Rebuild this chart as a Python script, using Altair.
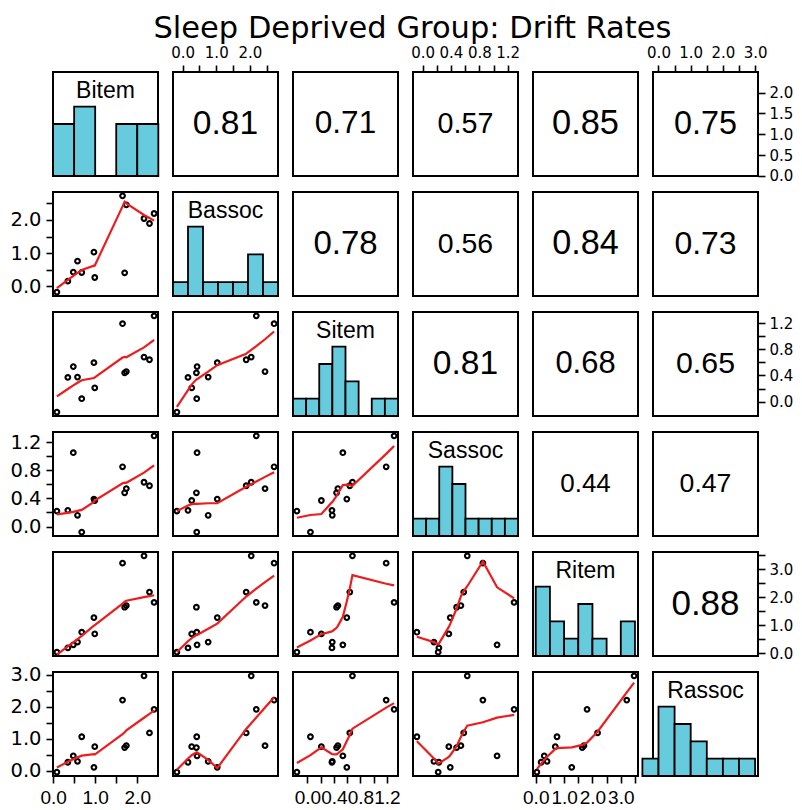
import altair as alt
import pandas as pd

FONT = "Liberation Sans"
AXFONT = "DejaVu Sans"
RED = "#EE1C1C"
CYAN = "#66CCDD"

names = ["Bitem", "Bassoc", "Sitem", "Sassoc", "Ritem", "Rassoc"]

bitem  = [0.09, 0.35, 0.48, 0.58, 0.68, 0.97, 0.99, 1.65, 1.70, 1.74, 2.16, 2.29, 2.40]
bassoc = [-0.17, 0.16, 0.43, 0.76, 0.42, 1.03, 0.27, 2.72, 0.41, 2.45, 2.04, 1.89, 2.19]
sitem  = [-0.16, 0.37, 0.535, 0.375, 0.045, 0.595, 0.21, 1.19, 0.44, 0.46, 0.68, 0.64, 1.31]
sassoc = [0.22, 0.23, 1.05, 0.16, -0.08, 0.39, 0.37, 0.85, 0.48, 0.54, 0.63, 0.58, 1.29]
ritem  = [0.04, 0.19, 0.30, 0.40, 0.75, 1.27, 0.69, 3.21, 1.64, 1.70, 3.47, 2.18, 1.81]
rassoc = [-0.05, 0.26, 0.46, 0.29, 1.06, 0.10, 0.75, 2.21, 0.72, 0.78, 2.97, 1.18, 1.92]

variables = [bitem, bassoc, sitem, sassoc, ritem, rassoc]

# correlations printed in the upper panels, row by row
cor_row1 = [0.81, 0.71, 0.57, 0.85, 0.75]
cor_row2 = [0.78, 0.56, 0.84, 0.73]
cor_row3 = [0.81, 0.68, 0.65]
cor_row4 = [0.44, 0.47]
cor_row5 = [0.88]
cor_rows = [cor_row1, cor_row2, cor_row3, cor_row4, cor_row5]

# histogram breaks per variable
bin_start = [0.0, -0.5, -0.2, -0.2, 0.0, -0.5]
bin_step = [0.5, 0.5, 0.2, 0.2, 0.5, 0.5]
bin_count = [5, 7, 8, 8, 7, 7]
hist_fill = [False, True, True, True, False, False]

# axis ticks per variable
tick_step = [0.5, 0.5, 0.2, 0.2, 0.5, 0.5]
tick_last = [2.0, 2.5, 1.2, 1.2, 3.5, 3.0]
label_step = [1.0, 1.0, 0.4, 0.4, 1.0, 1.0]
right_label_step = [0.5, 1.0, 0.4, 0.4, 1.0, 1.0]

W, H = 105, 104
N = len(names)


def padded(v):
    lo, hi = min(v), max(v)
    r = hi - lo
    return [lo - 0.04 * r, hi + 0.04 * r]


doms = [padded(v) for v in variables]


def ticks(k):
    n = int(round(tick_last[k] / tick_step[k]))
    return [round(t * tick_step[k], 4) for t in range(n + 1)]


def make_axis(orient, k, step, fs, pad, font):
    expr = ("(abs(datum.value / %g - round(datum.value / %g)) < 0.001) ? "
            "format(datum.value, '.1f') : ''" % (step, step))
    return alt.Axis(orient=orient, values=ticks(k), labelExpr=expr, title=None,
                    grid=False, domain=False, ticks=True, tickSize=7,
                    tickWidth=1.6, tickColor="black", labelColor="black",
                    labelFont=font, labelFontSize=fs, labelPadding=pad,
                    labelOverlap=False, labelFlush=False, labelBound=False)


def x_axis(i, j):
    if i == 0 and j % 2 == 1:
        return make_axis("top", j, label_step[j], 15, 5, AXFONT)
    if i == N - 1 and j % 2 == 0:
        return make_axis("bottom", j, label_step[j], 19, 5, FONT)
    return None


def y_axis(i, j):
    if j == 0 and i % 2 == 1:
        return make_axis("left", i, label_step[i], 19.5, 5, AXFONT)
    if j == N - 1 and i % 2 == 0:
        return make_axis("right", i, right_label_step[i], 15, 4, AXFONT)
    return None


def enc_x(field, j, axis):
    sc = alt.Scale(domain=doms[j], zero=False, nice=False)
    if axis is None:
        return alt.X(field, type="quantitative", scale=sc, axis=None)
    return alt.X(field, type="quantitative", scale=sc, axis=axis)


def enc_y(field, i, axis):
    sc = alt.Scale(domain=doms[i], zero=False, nice=False)
    if axis is None:
        return alt.Y(field, type="quantitative", scale=sc, axis=None)
    return alt.Y(field, type="quantitative", scale=sc, axis=axis)


def hist_panel(k):
    v = variables[k]
    edges = [round(bin_start[k] + b * bin_step[k], 4) for b in range(bin_count[k] + 1)]
    counts = [0] * bin_count[k]
    for val in v:
        for b in range(bin_count[k]):
            lo, hi = edges[b], edges[b + 1]
            if (lo < val <= hi) or (b == 0 and val == lo):
                counts[b] += 1
                break
    df = pd.DataFrame({"b0": edges[:-1], "b1": edges[1:], "n": counts,
                       "z": [0] * bin_count[k]})
    hdom = [edges[0], edges[-1]] if hist_fill[k] else doms[k]
    bars = alt.Chart(df).mark_rect(fill=CYAN, stroke="black", strokeWidth=1.8).encode(
        x=alt.X("b0:Q", scale=alt.Scale(domain=hdom, zero=False, nice=False), axis=None),
        x2="b1:Q",
        y=alt.Y("n:Q", scale=alt.Scale(domain=[0, 1.5 * max(counts)], nice=False), axis=None),
        y2="z:Q",
    )
    lab = alt.Chart(pd.DataFrame({"t": [names[k]]})).mark_text(
        font=FONT, fontSize=23, color="black", align="center", baseline="alphabetic"
    ).encode(x=alt.value(W / 2), y=alt.value(26), text="t:N")
    return alt.layer(bars, lab).properties(width=W, height=H)


def scatter_panel(i, j):
    df = pd.DataFrame({"x": variables[j], "y": variables[i]})
    xe = enc_x("x", j, x_axis(i, j))
    ye = enc_y("y", i, y_axis(i, j))
    pts = alt.Chart(df).mark_point(shape="circle", filled=False, color="black",
                                   size=22, strokeWidth=2.1, opacity=1).encode(x=xe, y=ye)
    smooth = alt.Chart(df).transform_loess("x", "y", bandwidth=2 / 3).mark_line(
        color=RED, strokeWidth=2.2).encode(x=xe, y=ye)
    return alt.layer(pts, smooth).properties(width=W, height=H)


def cor_panel(i, j):
    r = cor_rows[i][j - i - 1]
    lo_x, hi_x = doms[j]
    lo_y, hi_y = doms[i]
    df = pd.DataFrame({"x": [(lo_x + hi_x) / 2], "y": [(lo_y + hi_y) / 2],
                       "t": ["%.2f" % r]})
    fs = 17 + 20.5 * r
    txt = alt.Chart(df).mark_text(font=FONT, fontSize=fs, color="black",
                                  align="center", baseline="middle").encode(
        x=enc_x("x", j, x_axis(i, j)), y=enc_y("y", i, y_axis(i, j)), text="t:N")
    return txt.properties(width=W, height=H)


panels = []
for i in range(N):
    for j in range(N):
        if i == j:
            panels.append(hist_panel(i))
        elif i > j:
            panels.append(scatter_panel(i, j))
        else:
            panels.append(cor_panel(i, j))

chart = alt.concat(*panels, columns=N, spacing={"row": 16, "column": 15},
                   bounds="flush").properties(
    title=alt.TitleParams("Sleep Deprived Group: Drift Rates", font=AXFONT, fontSize=30.5,
                          fontWeight="normal", color="black", anchor="middle",
                          frame="bounds", dx=11, offset=0),
    padding={"left": 0, "top": 5, "right": 0, "bottom": 0},
    background="white",
).configure_view(stroke="black", strokeWidth=2)

chart.save("out.html", embed_options={"renderer": "svg", "actions": False})
